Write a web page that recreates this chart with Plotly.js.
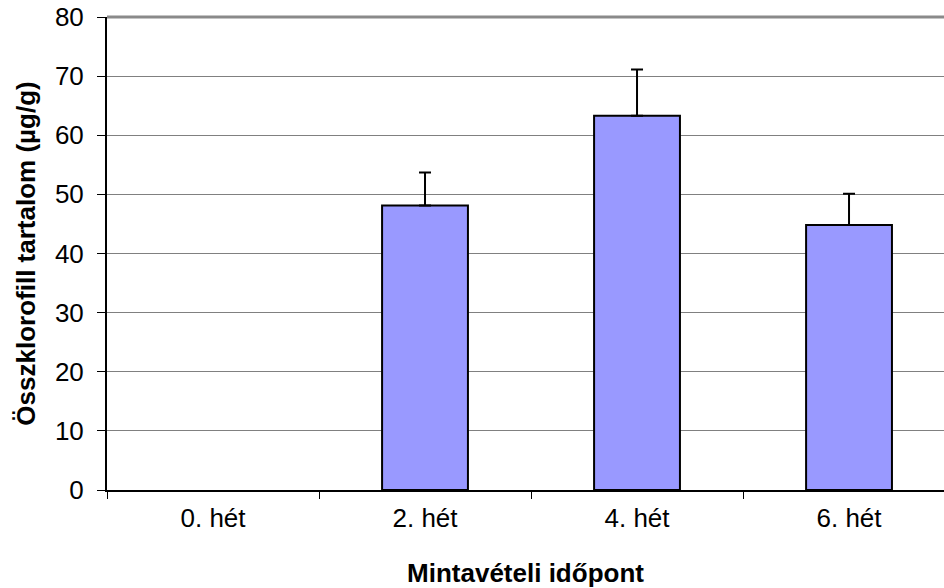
<!DOCTYPE html>
<html>
<head>
<meta charset="utf-8">
<script src="https://cdn.plot.ly/plotly-3.0.1.min.js"></script>
<style>html,body{margin:0;padding:0;overflow:hidden;background:#fff;}#chart{width:944px;height:588px;}</style>
</head>
<body>
<div id="chart"></div>
<script>
const categories = ["0. hét", "2. hét", "4. hét", "6. hét"];
const values = [null, 48.1, 63.3, 44.8];
const errorsPlus = [null, 5.6, 7.8, 5.3];
const errorsMinus = [0, 0, 0, 0];
const yTicks = [0, 10, 20, 30, 40, 50, 60, 70, 80];

const trace = {
  type: 'bar',
  x: categories,
  y: values,
  width: 0.405,
  marker: {color: '#9999FF', line: {color: '#000000', width: 2}},
  error_y: {type: 'data', symmetric: false, array: errorsPlus, arrayminus: errorsMinus,
            color: '#000000', thickness: 2, width: 6},
  hoverinfo: 'none'
};

const fam = 'Liberation Sans, Arial, sans-serif';
const layout = {
  width: 944, height: 588,
  margin: {l: 107, r: 0, t: 17, b: 98},
  paper_bgcolor: '#ffffff', plot_bgcolor: '#ffffff',
  showlegend: false,
  font: {family: fam, color: '#000000'},
  xaxis: {
    type: 'category',
    range: [-0.5, 3.448],
    tickson: 'boundaries',
    ticks: 'outside', ticklen: 7, tickcolor: '#000000', tickwidth: 1,
    ticklabelstandoff: 4,
    showline: true, linecolor: '#000000', linewidth: 2,
    showgrid: false, zeroline: false,
    automargin: false,
    tickfont: {family: fam, size: 26, color: '#000'},
    title: {text: '<b>Mintavételi időpont</b>', font: {family: fam, size: 26, color: '#000'}, standoff: 33}
  },
  yaxis: {
    range: [0, 80],
    tickvals: yTicks,
    ticktext: yTicks.map(String),
    ticks: 'outside', ticklen: 8, tickcolor: '#000000', tickwidth: 1,
    ticklabelstandoff: 8,
    showline: true, linecolor: '#000000', linewidth: 2,
    showgrid: true, gridcolor: '#808080', gridwidth: 1,
    zeroline: false,
    automargin: false,
    tickfont: {family: fam, size: 26, color: '#000'},
    title: {text: '<b>Összklorofill tartalom (µg/g)</b>', font: {family: fam, size: 26, color: '#000'}, standoff: 12}
  },
  shapes: [{type: 'line', xref: 'paper', yref: 'paper', x0: 0, x1: 1, y0: 1, y1: 1,
            line: {color: '#8a8a8a', width: 3}, layer: 'below'}]
};

Plotly.newPlot('chart', [trace], layout, {displayModeBar: false, staticPlot: true});
</script>
</body>
</html>
